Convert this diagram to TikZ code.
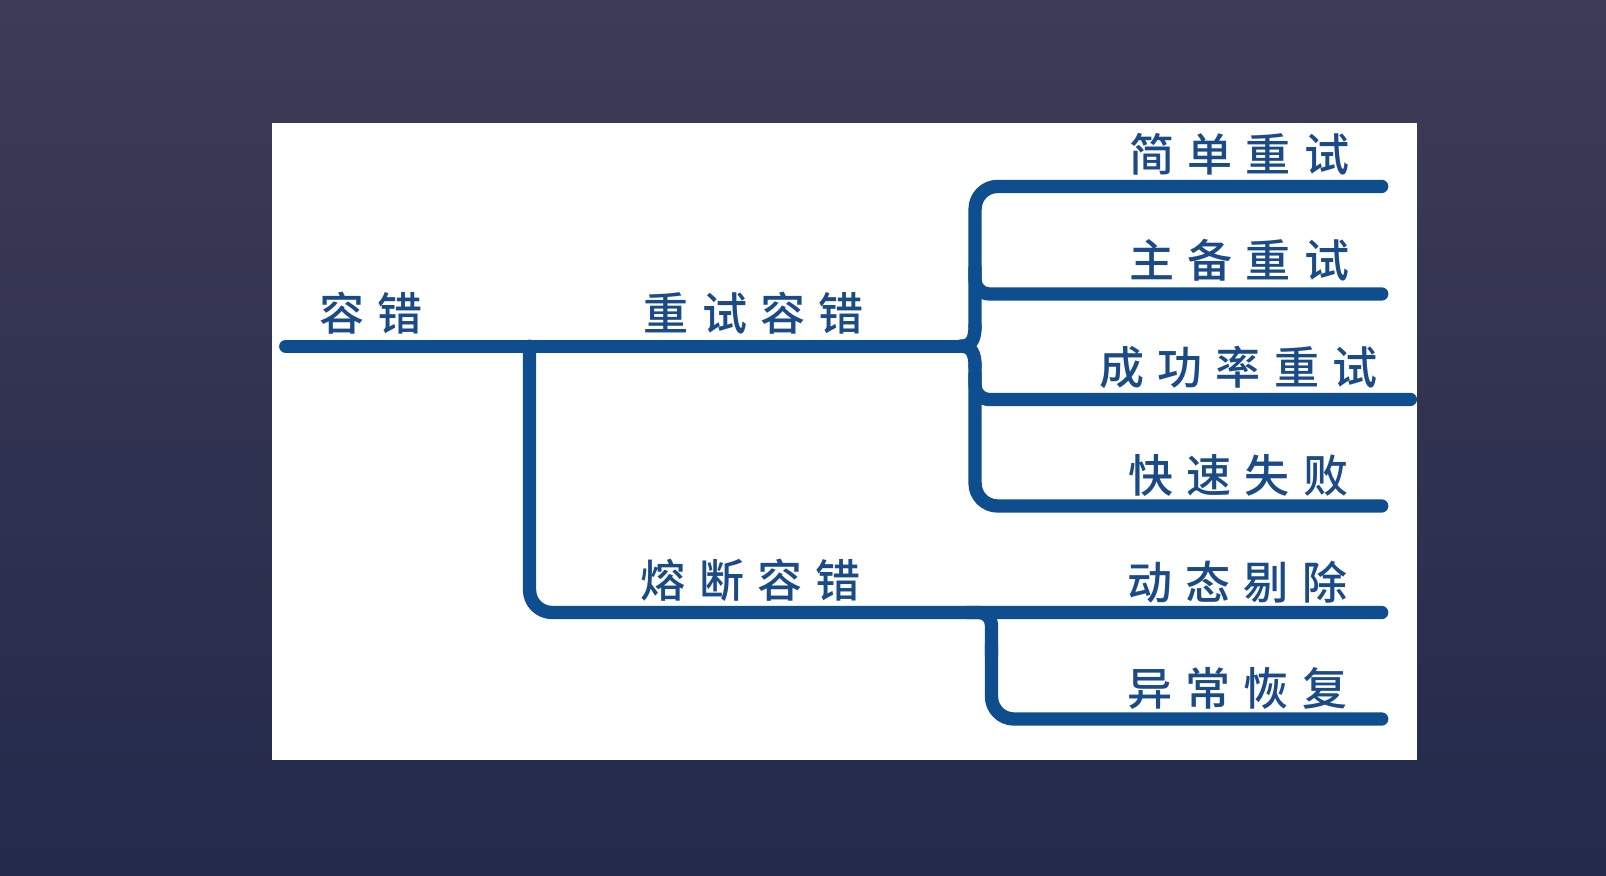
\documentclass[tikz,border=0pt]{standalone}
\usepackage{fontspec}
\newfontfamily\cjk[UprightFont={* Medium}]{Noto Sans CJK SC}
\definecolor{bgtop}{RGB}{62,59,86}
\definecolor{bgbot}{RGB}{35,42,76}
\definecolor{linec}{RGB}{14,78,143}
\definecolor{textc}{RGB}{26,75,135}
\newcommand{\chgap}{\hspace{13pt}}
\begin{document}
\begin{tikzpicture}[x=1pt,y=-1pt,
  lbl/.style={font=\cjk\fontsize{44}{44}\selectfont, text=textc, inner sep=0pt},
  trunk/.style={draw=linec, line width=13pt, line cap=round, line join=round, rounded corners=22pt}]
\fill[top color=bgtop, bottom color=bgbot] (0,0) rectangle (1568,855);
\useasboundingbox (0,0) rectangle (1568,855);
\fill[white] (266,120) rectangle (1383,742);
% junction coordinates
\coordinate (a0) at (279,338);
\coordinate (a1) at (517,338);
\coordinate (bj) at (938,338);
\coordinate (b1) at (1349,182);
\coordinate (b2) at (1349,287);
\coordinate (b3) at (1377,390);
\coordinate (b4) at (1349,494);
\coordinate (c0) at (968,598);
\coordinate (c1) at (1349,598);
\coordinate (c2) at (1349,702);
% connectors
\draw[trunk] (a0) -- (bj);
\draw[trunk] (a1) -- (517,598) -- (c1);
\draw[trunk] (b1) -- (952,182) -- (952,320);
\draw[trunk, rounded corners=0pt] (952,318) .. controls (952,332) and (948,338) .. (bj);
\draw[trunk, rounded corners=0pt] (bj) .. controls (948,338) and (952,344) .. (952,358);
\draw[trunk] (952,356) -- (952,494) -- (b4);
\draw[trunk, rounded corners=14pt] (952,262) -- (952,287) -- (b2);
\draw[trunk, rounded corners=14pt] (952,365) -- (952,390) -- (b3);
\draw[trunk, rounded corners=12pt] (944,598) -- (c0) -- (968,640);
\draw[trunk] (968,630) -- (968,702) -- (c2);
% labels
\node[lbl] (root)  at (362,306) {容\chgap 错};
\node[lbl] (retry) at (736,306) {重\chgap 试\chgap 容\chgap 错};
\node[lbl] (fuse)  at (733,567) {熔\chgap 断\chgap 容\chgap 错};
\node[lbl] (r1) at (1210,151) {简\chgap 单\chgap 重\chgap 试};
\node[lbl] (r2) at (1210,254) {主\chgap 备\chgap 重\chgap 试};
\node[lbl] (r3) at (1209,359) {成\chgap 功\chgap 率\chgap 重\chgap 试};
\node[lbl] (r4) at (1209,464) {快\chgap 速\chgap 失\chgap 败};
\node[lbl] (f1) at (1208,568) {动\chgap 态\chgap 剔\chgap 除};
\node[lbl] (f2) at (1208,672) {异\chgap 常\chgap 恢\chgap 复};
\end{tikzpicture}
\end{document}
